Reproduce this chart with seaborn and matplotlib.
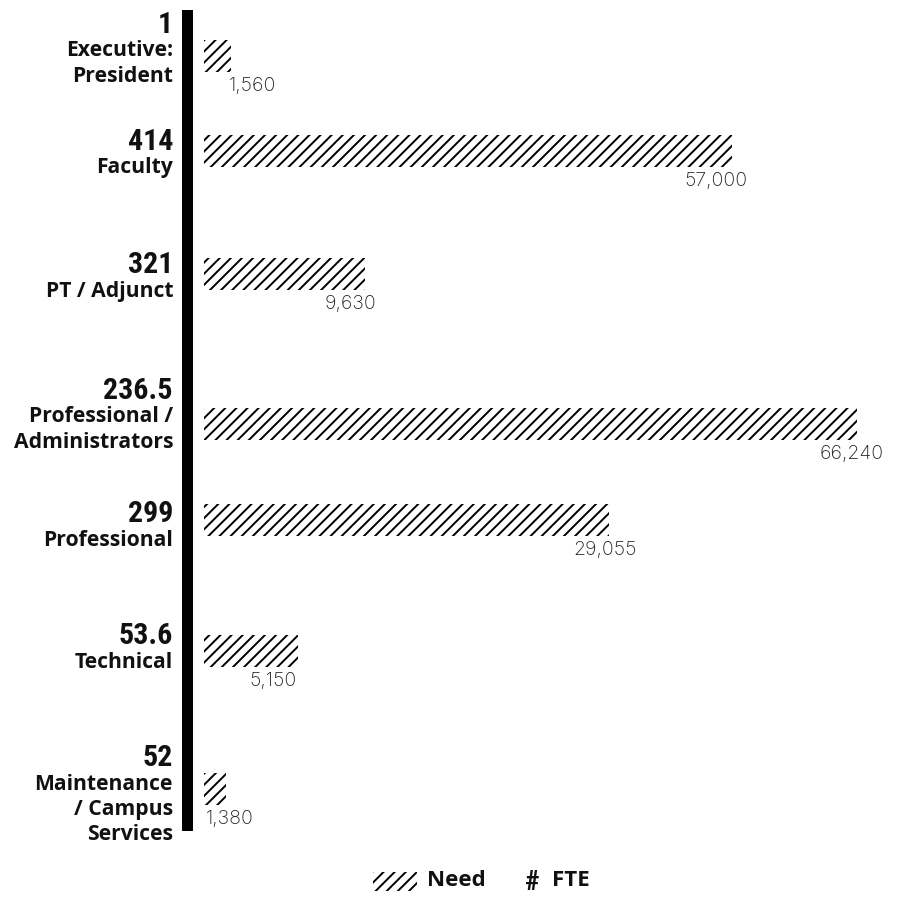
import pandas as pd
import seaborn as sns
import matplotlib.pyplot as plt
from matplotlib.patches import Rectangle

# data
categories = ["Executive:\nPresident", "Faculty", "PT / Adjunct",
              "Professional /\nAdministrators", "Professional", "Technical",
              "Maintenance\n/ Campus\nServices"]
fte = ["1", "414", "321", "236.5", "299", "53.6", "52"]
need = [1560, 57000, 9630, 66240, 29055, 5150, 1380]
# bar lengths as drawn in the original (not proportional to need)
bar_len = [27, 528, 161, 653, 405, 94, 22]

# layout, in pixels of the 899x898 canvas
row_y = [56, 151, 274, 424, 520, 651, 789]
label_y = [51, 168, 291, 417, 540, 662, 784]
value_dx = [22, -16, -14, -5, -4, -25, 4]

sns.set_theme(style="white")
plt.rcParams["font.family"] = ["Open Sans", "DejaVu Sans"]
plt.rcParams["hatch.linewidth"] = 1.4

fig = plt.figure(figsize=(8.99, 8.98), dpi=100)
ax = fig.add_axes([0, 0, 1, 1])

df = pd.DataFrame({"row": row_y, "len": bar_len})
sns.barplot(data=df, x="len", y="row", orient="h", native_scale=True,
            width=32 / 95, errorbar=None, ax=ax)
for p in ax.patches:
    p.set_facecolor("white")
    p.set_edgecolor("black")
    p.set_hatch("///")
    p.set_linewidth(0)

ax.set_xlim(-204, 695)
ax.set_ylim(898, 0)
ax.axis("off")

# thick black axis bar
ax.add_patch(Rectangle((-22, 10), 11, 821, color="black", lw=0))

for i in range(len(categories)):
    ax.text(-31, label_y[i] - 26, fte[i], ha="right", va="center",
            fontsize=21.5, fontweight="bold", family="Roboto Condensed",
            color="#111111")
    for j, line in enumerate(categories[i].split("\n")):
        ax.text(-31, label_y[i] + 25 * j, line, ha="right", va="center",
                fontsize=15.2, fontweight="bold", color="#111111")
    ax.text(bar_len[i] + value_dx[i], row_y[i] + 30, f"{need[i]:,}",
            ha="center", va="center", fontsize=14, fontweight="light",
            color="#222222", family="Inter")

# legend
ax.add_patch(Rectangle((373 - 204, 872), 44, 19, facecolor="white",
                       edgecolor="black", hatch="///", lw=0))
ax.text(427 - 204, 881, "Need", ha="left", va="center", fontsize=16,
        fontweight="bold", color="#111111")
ax.text(525 - 204, 883, "#", ha="left", va="center", fontsize=20,
        fontweight="bold", family="Roboto Condensed", color="#111111")
ax.text(552 - 204, 881, "FTE", ha="left", va="center", fontsize=16,
        fontweight="bold", color="#111111")

fig.savefig("out.png", dpi=100)
